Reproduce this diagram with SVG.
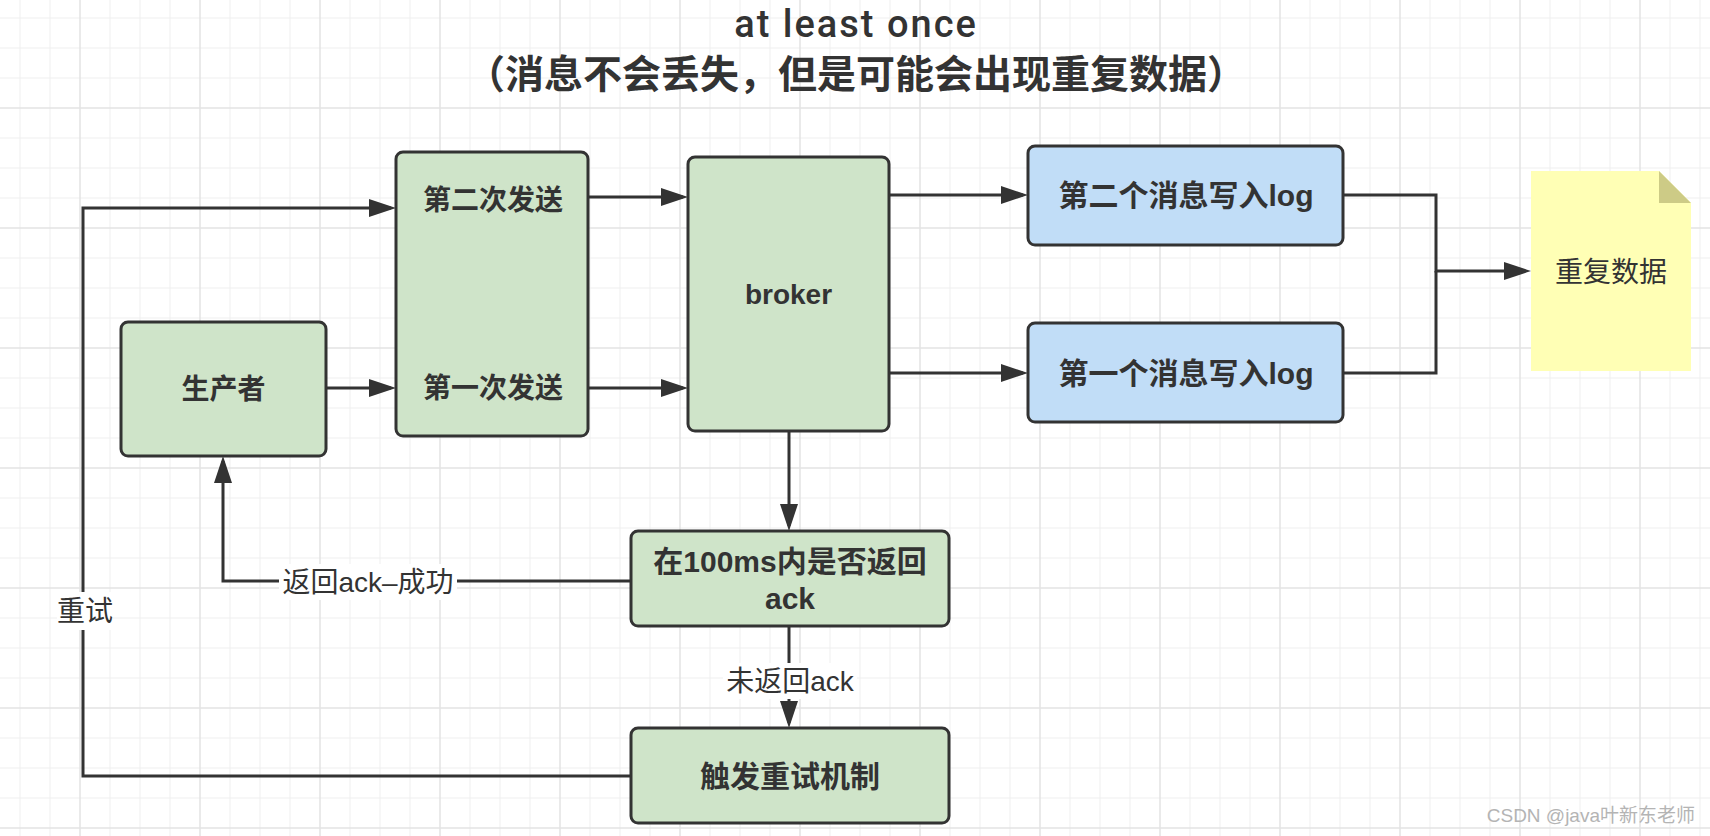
<svg xmlns="http://www.w3.org/2000/svg" width="1710" height="836" viewBox="0 0 1710 836">
<defs>
<pattern id="grid" patternUnits="userSpaceOnUse" x="5" y="33" width="120" height="120">
<rect width="120" height="120" fill="#ffffff"/>
<path d="M15,0V120M45,0V120M105,0V120M0,15H120M0,45H120M0,105H120" stroke="#f0f0f0" stroke-width="1" fill="none"/>
<path d="M75,0V120M0,75H120" stroke="#e4e4e4" stroke-width="1.5" fill="none"/>
</pattern>
<marker id="arr" viewBox="0 0 27 18" refX="22" refY="9" markerWidth="27" markerHeight="18" markerUnits="userSpaceOnUse" orient="auto">
<path d="M0,0L27,9L0,18Z" fill="#333333"/>
</marker>
</defs>
<style>
text{font-family:"Liberation Sans","Noto Sans CJK SC",sans-serif;fill:#333333;}
.g{fill:#cfe4c9;stroke:#333333;stroke-width:3;}
.b{fill:#c1ddf7;stroke:#333333;stroke-width:3;}
.nt{font-size:28px;font-weight:bold;text-anchor:middle;dominant-baseline:central;}
.bt{font-size:30px;font-weight:bold;text-anchor:middle;dominant-baseline:central;}
.lbl{font-size:28px;text-anchor:middle;dominant-baseline:central;}
.e{fill:none;stroke:#333333;stroke-width:3;}
.ea{fill:none;stroke:#333333;stroke-width:3;marker-end:url(#arr);}
</style>
<rect width="1710" height="836" fill="url(#grid)"/>

<g id="title">
<text x="856" y="37" font-size="38" font-weight="500" letter-spacing="2" text-anchor="middle" style="font-family:Roboto,'Liberation Sans',sans-serif">at least once</text>
<text x="856" y="88" font-size="39" font-weight="bold" text-anchor="middle">（消息不会丢失，但是可能会出现重复数据）</text>
</g>

<g id="connectors">
<path class="ea" d="M326,388H391"/>
<path class="ea" d="M588,388H683"/>
<path class="ea" d="M588,197H683"/>
<path class="ea" d="M631,776H83V208H391"/>
<path class="ea" d="M789,431V526"/>
<path class="ea" d="M631,581H223V461"/>
<path class="ea" d="M789,626V723"/>
<path class="ea" d="M889,195H1023"/>
<path class="ea" d="M889,373H1023"/>
<path class="ea" d="M1343,195H1436V271H1526"/>
<path class="e" d="M1343,373H1436V271"/>
<g id="edge-labels">
<rect x="57" y="592" width="56" height="38" fill="#ffffff"/>
<text class="lbl" x="85" y="611">重试</text>
<rect x="279" y="564" width="178" height="36" fill="#ffffff"/>
<text class="lbl" x="368" y="582">返回ack–成功</text>
<rect x="723" y="663" width="134" height="36" fill="#ffffff"/>
<text class="lbl" x="790" y="681">未返回ack</text>
</g>
</g>

<g id="producer">
<rect class="g" x="121" y="322" width="205" height="134" rx="7"/>
<text class="nt" x="223.5" y="389">生产者</text>
</g>

<g id="send">
<rect class="g" x="396" y="152" width="192" height="284" rx="7"/>
<text class="nt" x="493" y="200">第二次发送</text>
<text class="nt" x="493" y="388">第一次发送</text>
</g>

<g id="broker">
<rect class="g" x="688" y="157" width="201" height="274" rx="7"/>
<text class="nt" x="788.5" y="294">broker</text>
</g>

<g id="log2">
<rect class="b" x="1028" y="146" width="315" height="99" rx="7"/>
<text class="bt" x="1186" y="195">第二个消息写入log</text>
</g>

<g id="log1">
<rect class="b" x="1028" y="323" width="315" height="99" rx="7"/>
<text class="bt" x="1186" y="373">第一个消息写入log</text>
</g>

<g id="duplicate">
<path d="M1531,171H1659L1691,203V371H1531Z" fill="#ffffb5"/>
<path d="M1659,171L1691,203H1659Z" fill="#cdcb86"/>
<text x="1611" y="272" font-size="28" text-anchor="middle" dominant-baseline="central">重复数据</text>
</g>

<g id="check-ack">
<rect class="g" x="631" y="531" width="318" height="95" rx="7"/>
<text class="nt" x="790" y="561" style="font-size:30px">在100ms内是否返回</text>
<text class="nt" x="790" y="598" style="font-size:30px">ack</text>
</g>

<g id="retry">
<rect class="g" x="631" y="728" width="318" height="95" rx="7"/>
<text class="nt" x="790" y="776" style="font-size:30px">触发重试机制</text>
</g>

<g id="watermark">
<text x="1695" y="815" font-size="19" text-anchor="end" dominant-baseline="central" style="fill:#b4b4b4">CSDN @java叶新东老师</text>
</g>
</svg>
